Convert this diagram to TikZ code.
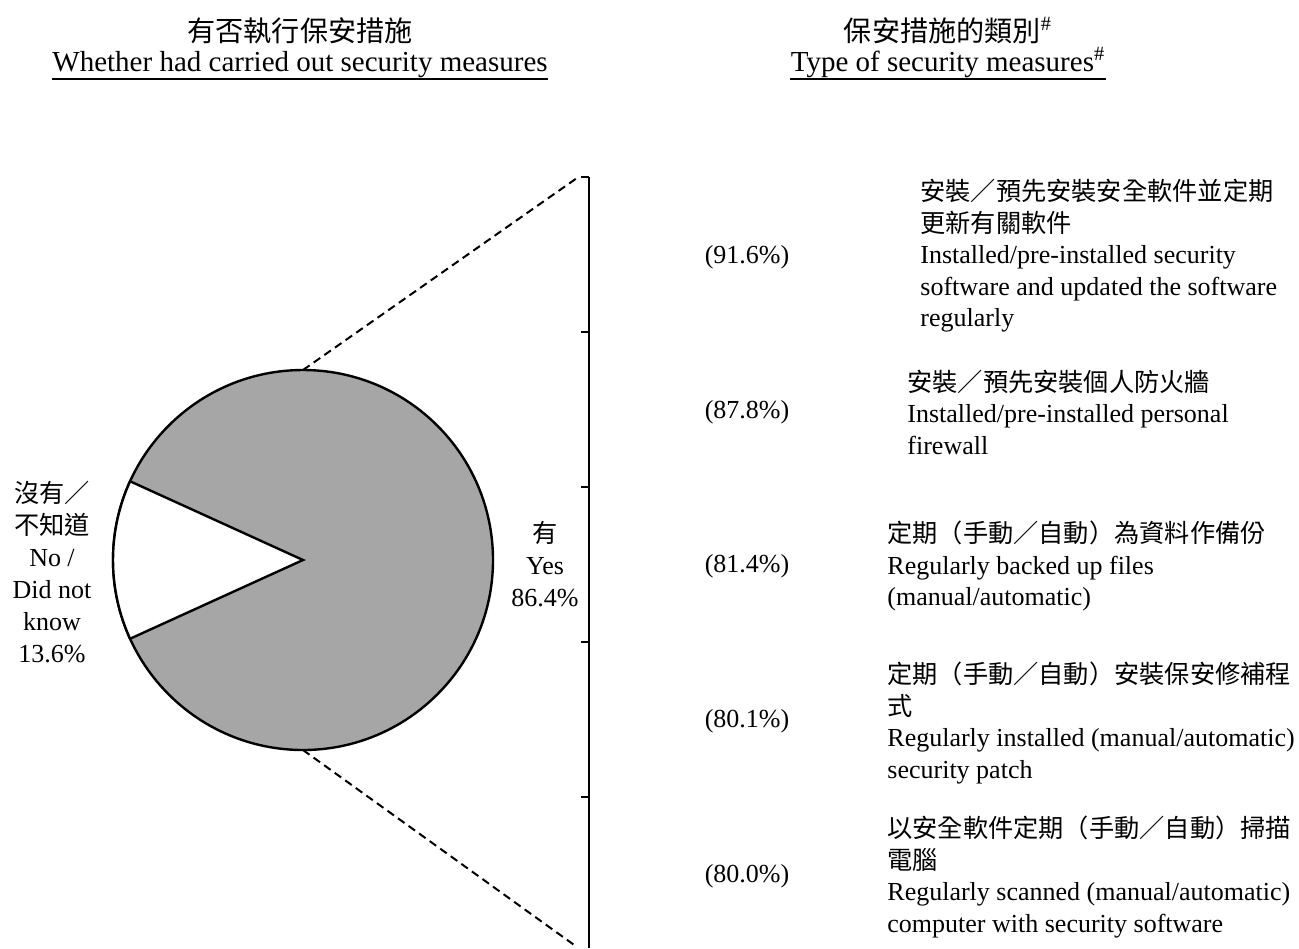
\documentclass[tikz,border=0pt]{standalone}
\usepackage{fontspec}
\setmainfont{Liberation Serif}
\newfontfamily\cjk[Scale=0.97]{Noto Sans CJK TC}
\definecolor{pieGray}{HTML}{A6A6A6}

\begin{document}
\begin{tikzpicture}[x=0.5pt,y=-0.5pt,
  every node/.style={inner sep=0pt,font=\fontsize{13pt}{15.75pt}\selectfont},
  title/.style={anchor=base,font=\fontsize{14.5pt}{16.5pt}\selectfont},
  share/.style={align=center,font=\fontsize{13pt}{16pt}\selectfont},
  measure/.style={anchor=west,align=left},
  axis/.style={line width=0.75pt},
  uline/.style={line width=1pt},
  zoomline/.style={dash pattern=on 4pt off 2.5pt,line width=1pt}]
\useasboundingbox (0,0) rectangle (1299,948);
% titles
\node[title] (ltitle) at (300,41) {\cjk 有否執行保安措施};
\node[title] (lsub) at (300,71) {Whether had carried out security measures};
\node[title] (rtitle) at (948,41) {{\cjk 保安措施的類別}\textsuperscript{\#}};
\node[title] (rsub) at (948,71) {Type of security measures\textsuperscript{\#}};
\draw[uline] ([yshift=-0.5pt]lsub.south west) -- ([yshift=-0.5pt]lsub.south east);
\draw[uline] ([yshift=-0.5pt]rsub.south west) -- ([yshift=-0.5pt]rsub.south east);
% pie
\coordinate (O) at (303,560);
\draw[line width=1.2pt,fill=pieGray] (O) circle[radius=190];
\draw[line width=1.2pt,fill=white] (O) -- ++(155.52:190)
  arc[start angle=155.52,end angle=204.48,radius=190] -- cycle;
\node[share] (no) at (52,572) {{\cjk 沒有／}\\{\cjk 不知道}\\No /\\Did not\\know\\13.6\%};
\node[share] (yes) at (545,564) {{\cjk 有}\\Yes\\86.4\%};
% axis
\coordinate (axtop) at (589,177);
\coordinate (axbot) at (589,948);
\draw[axis] (axtop) -- (axbot);
\draw[axis] (581,177) -- (589,177) (581,332) -- (589,332)
  (581,487) -- (589,487) (581,642) -- (589,642) (581,797) -- (589,797);
% zoom lines
\coordinate (ptop) at (303,370);
\coordinate (pbot) at (303,750);
\coordinate (ztop) at (577,178);
\coordinate (zbot) at (577,947);
\draw[zoomline] (ptop) -- (ztop);
\draw[zoomline] (pbot) -- (zbot);
% bars
\node (p1) at (747,257) {(91.6\%)};
\node (p2) at (747,412) {(87.8\%)};
\node (p3) at (747,566) {(81.4\%)};
\node (p4) at (747,721) {(80.1\%)};
\node (p5) at (747,876) {(80.0\%)};
\node[measure] (m1) at (920,256) {{\cjk 安裝／預先安裝安全軟件並定期}\\{\cjk 更新有關軟件}\\Installed/pre-installed security\\software and updated the software\\regularly};
\node[measure] (m2) at (907,412) {{\cjk 安裝／預先安裝個人防火牆}\\Installed/pre-installed personal\\firewall};
\node[measure] (m3) at (887,566) {{\cjk 定期（手動／自動）為資料作備份}\\Regularly backed up files\\(manual/automatic)};
\node[measure] (m4) at (887,723) {{\cjk 定期（手動／自動）安裝保安修補程}\\{\cjk 式}\\Regularly installed (manual/automatic)\\security patch};
\node[measure] (m5) at (887,877) {{\cjk 以安全軟件定期（手動／自動）掃描}\\{\cjk 電腦}\\Regularly scanned (manual/automatic)\\computer with security software};
\end{tikzpicture}
\end{document}
